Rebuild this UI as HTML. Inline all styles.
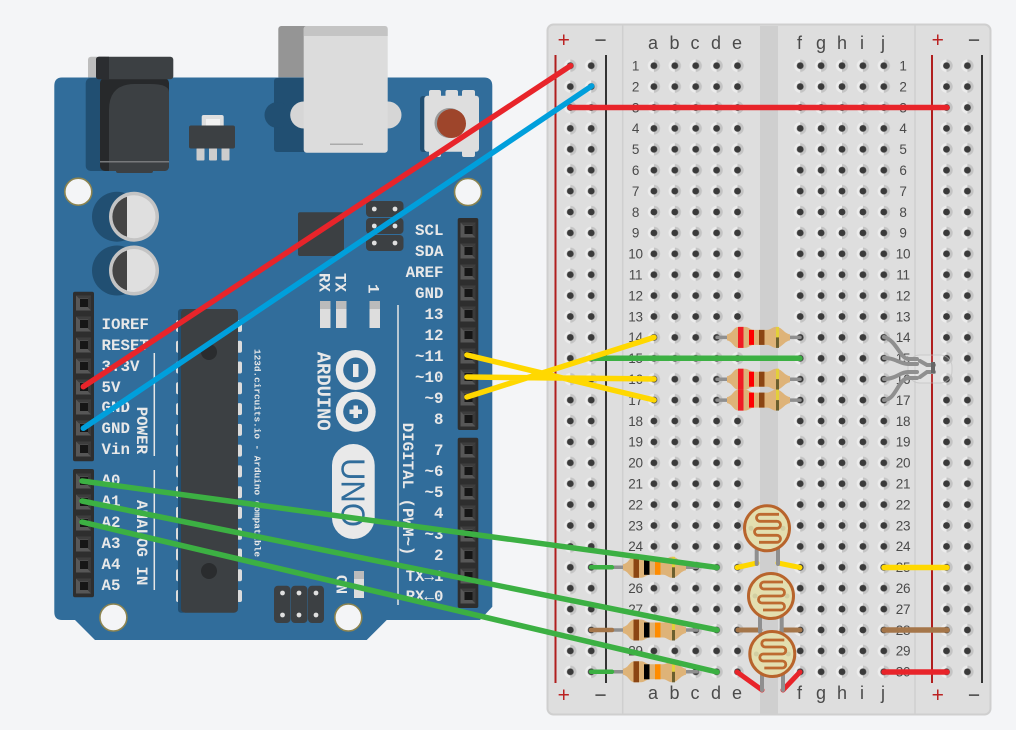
<!DOCTYPE html>
<html><head><meta charset="utf-8"><style>
html,body{margin:0;padding:0;background:#f4f5f7}
svg{display:block}
.m{font-family:"Liberation Mono",monospace;font-size:15.8px;font-weight:bold;fill:#e8e8e8}
.n{font-family:"Liberation Sans Narrow","Liberation Sans",sans-serif;fill:#4a4a4a}
.l{font-size:18px}
.r{font-size:13.5px;letter-spacing:-.3px}
</style></head><body>
<svg width="1016" height="730" viewBox="0 0 1016 730" xmlns="http://www.w3.org/2000/svg">
<defs>
<g id="p"><rect x="-7.5" y="-7.5" width="15" height="15" fill="#575757"/><path d="M-7.5-7.5h15l-3 3h-9z" fill="#3d3d3d"/><path d="M7.5-7.5v15l-3-3v-9z" fill="#3a3a3a"/><rect x="-3.5" y="-4" width="8" height="8" fill="#161616"/></g>
<pattern id="h" patternUnits="userSpaceOnUse" x="559.85" y="55.25" width="20.9" height="20.9">
<path d="M10.45 4.25a6.200 6.200 0 0 0 0 12.400z" fill="#ececec"/><path d="M10.45 4.25a6.200 6.200 0 0 1 0 12.400z" fill="#c4c4c4"/><circle cx="10.45" cy="10.45" r="3.4" fill="#3a3a3a"/>
</pattern>
<g id="res"><path d="M0-3C6-4 6-10.500 12-10.500L18-10.500C22-10.500 23-7.500 27-7.500L40-7.500C44-7.500 45-10.500 49-10.500C55-10.500 57-4 63-3V3C57 4 55 10.500 49 10.500C45 10.500 44 7.500 40 7.500L27 7.500C23 7.500 22 10.500 18 10.500L12 10.500C6 10.500 6 4 0 3Z" fill="#deb378"/></g>
<g id="gold"><rect x="49" y="-10.500" width="3" height="10.500" fill="#e3cf3a"/><rect x="49" y="0" width="3" height="10.500" fill="#6b5f2e"/></g>
<g id="rt"><use href="#res"/><rect x="11" y="-10.500" width="5.500" height="21" fill="#ee1c25"/><rect x="22" y="-7.500" width="5" height="15" fill="#f00"/><rect x="32" y="-7.500" width="5.500" height="15" fill="#8b4513"/><use href="#gold"/></g>
<g id="rb"><use href="#res"/><rect x="10.500" y="-10.500" width="5.500" height="21" fill="#8b4513"/><rect x="21" y="-7.500" width="5.500" height="15" fill="#000"/><rect x="32" y="-7.500" width="5.500" height="15" fill="#ff8c00"/><use href="#gold"/></g>
<g id="ldr"><circle r="22.500" fill="#e3dfb0" stroke="#b8642c" stroke-width="3"/><circle cx="-16" r="2.500" fill="#d2cea2"/><circle cx="16" r="2.500" fill="#d2cea2"/><path d="M12-14H-7A3.500 3.500 0 0 0-7-7H10A3.500 3.500 0 0 1 10 0H-9A3.500 3.500 0 0 0-9 7H10A3.500 3.500 0 0 1 10 14H-8" fill="none" stroke="#bd6a30" stroke-width="2.800"/></g>
</defs>

<!-- breadboard -->
<rect x="547.5" y="24.5" width="443" height="690" rx="6" fill="#dedede" stroke="#cfcfcf" stroke-width="2"/>
<rect x="760" y="26" width="18" height="688" fill="#cfcfcf"/>
<path d="M622.7 25V714M915 25V714" stroke="#cfcfcf" stroke-width="1.5"/>
<path d="M555.5 55V683M932 55V683" stroke="#b01e1e" stroke-width="2"/>
<path d="M606 55V683M982 55V683" stroke="#333" stroke-width="2"/>
<rect x="559.85" y="55.25" width="41.8" height="627" fill="url(#h)"/>
<rect x="643.45" y="55.25" width="104.5" height="627" fill="url(#h)"/>
<rect x="789.85" y="55.25" width="104.5" height="627" fill="url(#h)"/>
<rect x="936.25" y="55.25" width="41.8" height="627" fill="url(#h)"/>
<g font-family="Liberation Sans,sans-serif" font-size="21" text-anchor="middle">
<text x="563.7" y="47" fill="#b22">+</text><text x="600.5" y="47" fill="#444">−</text><text x="937.7" y="47" fill="#b22">+</text><text x="974" y="47" fill="#444">−</text>
<text x="563.7" y="702" fill="#b22">+</text><text x="600.5" y="702" fill="#444">−</text><text x="937.7" y="702" fill="#b22">+</text><text x="974" y="702" fill="#444">−</text>
</g>
<g class="n l" text-anchor="middle">
<text x="653" y="49">a</text><text x="674.5" y="49">b</text><text x="695" y="49">c</text><text x="716" y="49">d</text><text x="737" y="49">e</text>
<text x="799.5" y="49">f</text><text x="821" y="49">g</text><text x="842" y="49">h</text><text x="862" y="49">i</text><text x="883" y="49">j</text>
<text x="653" y="699">a</text><text x="674.5" y="699">b</text><text x="695" y="699">c</text><text x="716" y="699">d</text><text x="737" y="699">e</text>
<text x="799.5" y="699">f</text><text x="821" y="699">g</text><text x="842" y="699">h</text><text x="862" y="699">i</text><text x="883" y="699">j</text>
</g>
<g class="n r" text-anchor="middle">
<text x="635.5" y="70.5">1</text><text x="635.5" y="91.4">2</text><text x="635.5" y="112.3">3</text><text x="635.5" y="133.2">4</text><text x="635.5" y="154.1">5</text><text x="635.5" y="175">6</text><text x="635.5" y="195.9">7</text><text x="635.5" y="216.8">8</text><text x="635.5" y="237.7">9</text><text x="635.5" y="258.6">10</text><text x="635.5" y="279.5">11</text><text x="635.5" y="300.4">12</text><text x="635.5" y="321.3">13</text><text x="635.5" y="342.2">14</text><text x="635.5" y="363.1">15</text><text x="635.5" y="384">16</text><text x="635.5" y="404.9">17</text><text x="635.5" y="425.8">18</text><text x="635.5" y="446.7">19</text><text x="635.5" y="467.6">20</text><text x="635.5" y="488.5">21</text><text x="635.5" y="509.4">22</text><text x="635.5" y="530.3">23</text><text x="635.5" y="551.2">24</text><text x="635.5" y="572.1">25</text><text x="635.5" y="593">26</text><text x="635.5" y="613.9">27</text><text x="635.5" y="634.8">28</text><text x="635.5" y="655.7">29</text><text x="635.5" y="676.6">30</text>
<text x="903" y="70.5">1</text><text x="903" y="91.4">2</text><text x="903" y="112.3">3</text><text x="903" y="133.2">4</text><text x="903" y="154.1">5</text><text x="903" y="175">6</text><text x="903" y="195.9">7</text><text x="903" y="216.8">8</text><text x="903" y="237.7">9</text><text x="903" y="258.6">10</text><text x="903" y="279.5">11</text><text x="903" y="300.4">12</text><text x="903" y="321.3">13</text><text x="903" y="342.2">14</text><text x="903" y="363.1">15</text><text x="903" y="384">16</text><text x="903" y="404.9">17</text><text x="903" y="425.8">18</text><text x="903" y="446.7">19</text><text x="903" y="467.6">20</text><text x="903" y="488.5">21</text><text x="903" y="509.4">22</text><text x="903" y="530.3">23</text><text x="903" y="551.2">24</text><text x="903" y="572.1">25</text><text x="903" y="593">26</text><text x="903" y="613.9">27</text><text x="903" y="634.8">28</text><text x="903" y="655.7">29</text><text x="903" y="676.6">30</text>
</g>

<!-- back parts above board -->
<rect x="88" y="56.7" width="20" height="24" rx="3" fill="#bdbdbd"/>
<rect x="278.3" y="26" width="30" height="54" rx="3" fill="#959595"/>
<!-- arduino board -->
<path d="M62 77.5H484Q492.3 77.5 492.3 86V606.7L480 620H386.7L366.7 640H95L75 620H62Q54.3 620 54.3 612V86Q54.3 77.5 62 77.5Z" fill="#316d9b"/>
<!-- jack -->
<rect x="85.7" y="78" width="40" height="93" rx="5" fill="#214f72"/>
<rect x="100" y="78" width="69" height="93" rx="5" fill="#27292b"/>
<path d="M109 171V110Q109 84 135 84H150Q169 84 169 92V166Q169 171 164 171Z" fill="#3c4043"/>
<rect x="116" y="168" width="37" height="5" rx="2" fill="#3c4043"/>
<rect x="100" y="161" width="69" height="1.5" fill="#77797b"/>
<rect x="96" y="56.7" width="77.3" height="22.6" rx="3" fill="#3c4043"/>
<path d="M99 56.7H109V79.3H99Q96 79.3 96 76.3V59.7Q96 56.7 99 56.7Z" fill="#2b2d30"/>
<!-- regulator -->
<rect x="201.7" y="115" width="22" height="14" rx="2" fill="#dfdfdf"/><rect x="206" y="119" width="14" height="8" fill="#f2f2f2"/>
<rect x="196.5" y="148" width="8" height="12.5" rx="1" fill="#cdcdcd"/><rect x="209" y="148" width="8" height="12.5" rx="1" fill="#cdcdcd"/><rect x="221.5" y="148" width="8" height="12.5" rx="1" fill="#cdcdcd"/>
<rect x="189" y="125.5" width="46" height="23" rx="2" fill="#3c4043"/>
<!-- caps -->
<circle cx="117" cy="216.7" r="25" fill="#214f72"/><circle cx="117" cy="270.5" r="25" fill="#214f72"/>
<circle cx="134" cy="216.7" r="25" fill="#c4c4c4"/><circle cx="134" cy="216.7" r="21.5" fill="#dfdfdf"/><path d="M127 196.7A21 21 0 0 0 127 236.7Z" fill="#444"/>
<circle cx="134" cy="270.5" r="25" fill="#c4c4c4"/><circle cx="134" cy="270.5" r="21.5" fill="#dfdfdf"/><path d="M127 250.5A21 21 0 0 0 127 290.5Z" fill="#444"/>
<!-- usb -->
<rect x="274" y="78" width="36" height="74" rx="3" fill="#214f72"/><circle cx="277.5" cy="115" r="13" fill="#214f72"/>
<circle cx="303.7" cy="115" r="13.5" fill="#d6d6d6"/><circle cx="388" cy="115" r="13.5" fill="#d6d6d6"/>
<rect x="303.7" y="26" width="84" height="126.7" rx="3" fill="#dcdcdc"/>
<path d="M306.7 26H384.7Q387.7 26 387.7 29V36H303.7V29Q303.7 26 306.7 26Z" fill="#c4c4c4"/>
<rect x="330" y="143.5" width="33" height="1.5" fill="#aaa"/>
<!-- reset -->
<rect x="420" y="96" width="20" height="56" rx="3" fill="#214f72"/>
<rect x="429" y="90" width="12" height="8" rx="2" fill="#dedede"/><rect x="445.5" y="90" width="12.5" height="8" rx="2" fill="#dedede"/><rect x="462" y="90" width="13" height="8" rx="2" fill="#dedede"/>
<rect x="429" y="150" width="12" height="7" rx="2" fill="#dedede"/><rect x="462" y="150" width="13" height="7" rx="2" fill="#dedede"/>
<rect x="424.3" y="95.7" width="54.7" height="56" rx="3" fill="#dedede"/>
<circle cx="449.5" cy="123" r="15" fill="#999"/><circle cx="451.5" cy="123.5" r="14.5" fill="#9e452b"/>
<!-- mount holes -->
<circle cx="78.3" cy="191.7" r="13.5" fill="#f4f5f7" stroke="#8c8450" stroke-width="1.6"/>
<circle cx="468" cy="192" r="13.5" fill="#f4f5f7" stroke="#8c8450" stroke-width="1.6"/>
<circle cx="113.4" cy="617.5" r="13.5" fill="#f4f5f7" stroke="#8c8450" stroke-width="1.6"/>
<circle cx="348.3" cy="617.5" r="13.5" fill="#f4f5f7" stroke="#8c8450" stroke-width="1.6"/>
<!-- small chip -->
<rect x="298" y="212.3" width="46" height="43.7" rx="2" fill="#3c4043"/>
<!-- icsp top -->
<rect x="366" y="201" width="37.5" height="16" rx="4" fill="#3c4043"/><rect x="366" y="218" width="37.5" height="16" rx="4" fill="#3c4043"/><rect x="366" y="235" width="37.5" height="16" rx="4" fill="#3c4043"/>
<g fill="#e0e0e0"><circle cx="374.3" cy="209" r="2.4"/><circle cx="395" cy="209" r="2.4"/><circle cx="374.3" cy="226" r="2.4"/><circle cx="395" cy="226" r="2.4"/><circle cx="374.3" cy="243" r="2.4"/><circle cx="395" cy="243" r="2.4"/></g>
<!-- icsp bottom -->
<rect x="274" y="585.7" width="16.5" height="37.3" rx="4" fill="#3c4043"/><rect x="291" y="585.7" width="16.5" height="37.3" rx="4" fill="#3c4043"/><rect x="308" y="585.7" width="16" height="37.3" rx="4" fill="#3c4043"/>
<g fill="#e0e0e0"><circle cx="282.5" cy="593" r="2.4"/><circle cx="299" cy="593" r="2.4"/><circle cx="316" cy="593" r="2.4"/><circle cx="282.5" cy="615" r="2.4"/><circle cx="299" cy="615" r="2.4"/><circle cx="316" cy="615" r="2.4"/></g>
<!-- main chip -->
<g fill="#dcdcdc"><rect x="176" y="320" width="5" height="12" rx="2"/><rect x="176" y="340.800" width="5" height="12" rx="2"/><rect x="176" y="361.500" width="5" height="12" rx="2"/><rect x="176" y="382.300" width="5" height="12" rx="2"/><rect x="176" y="403.100" width="5" height="12" rx="2"/><rect x="176" y="423.900" width="5" height="12" rx="2"/><rect x="176" y="444.600" width="5" height="12" rx="2"/><rect x="176" y="465.400" width="5" height="12" rx="2"/><rect x="176" y="486.200" width="5" height="12" rx="2"/><rect x="176" y="506.900" width="5" height="12" rx="2"/><rect x="176" y="527.700" width="5" height="12" rx="2"/><rect x="176" y="548.500" width="5" height="12" rx="2"/><rect x="176" y="569.200" width="5" height="12" rx="2"/><rect x="176" y="590" width="5" height="12" rx="2"/>
<rect x="237" y="320" width="5" height="12" rx="2"/><rect x="237" y="340.800" width="5" height="12" rx="2"/><rect x="237" y="361.500" width="5" height="12" rx="2"/><rect x="237" y="382.300" width="5" height="12" rx="2"/><rect x="237" y="403.100" width="5" height="12" rx="2"/><rect x="237" y="423.900" width="5" height="12" rx="2"/><rect x="237" y="444.600" width="5" height="12" rx="2"/><rect x="237" y="465.400" width="5" height="12" rx="2"/><rect x="237" y="486.200" width="5" height="12" rx="2"/><rect x="237" y="506.900" width="5" height="12" rx="2"/><rect x="237" y="527.700" width="5" height="12" rx="2"/><rect x="237" y="548.500" width="5" height="12" rx="2"/><rect x="237" y="569.200" width="5" height="12" rx="2"/><rect x="237" y="590" width="5" height="12" rx="2"/></g>
<rect x="178" y="309" width="8" height="303.7" rx="3" fill="#214f72"/>
<rect x="181" y="309" width="57" height="303.7" rx="4" fill="#3c4043"/>
<circle cx="209" cy="352" r="8" fill="#2a2c2e"/><circle cx="209" cy="571" r="8" fill="#2a2c2e"/>
<!-- leds -->
<rect x="320" y="301" width="10.5" height="27" fill="#ddd"/><rect x="320" y="301" width="10.5" height="8" fill="#bbb"/>
<rect x="336" y="301" width="10.5" height="27" fill="#ddd"/><rect x="336" y="301" width="10.5" height="8" fill="#bbb"/>
<rect x="369.5" y="301" width="10.5" height="27" fill="#ddd"/><rect x="369.5" y="301" width="10.5" height="8" fill="#bbb"/>
<rect x="354" y="571" width="10" height="27" fill="#ddd"/><rect x="354" y="571" width="10" height="8" fill="#bbb"/>
<!-- logo -->
<circle cx="355.7" cy="370" r="20" fill="#e9e9e9"/><circle cx="355.7" cy="411.7" r="20" fill="#e9e9e9"/>
<circle cx="355.7" cy="370" r="12.5" fill="#316d9b"/><circle cx="355.7" cy="411.7" r="12.5" fill="#316d9b"/>
<rect x="353" y="364" width="5.5" height="13" fill="#e9e9e9"/>
<path d="M353.5 405.5h4.5v4h4v4.5h-4v4h-4.500v-4h-4v-4.500h4z" fill="#e9e9e9"/>
<rect x="332" y="444" width="42.700" height="95" rx="21.300" fill="#e9e9e9"/>
<text transform="translate(341.500,458) rotate(90)" font-family="Liberation Sans,sans-serif" font-size="33" textLength="69" lengthAdjust="spacingAndGlyphs" fill="#316d9b">UNO</text>
<text transform="translate(317.700,351.700) rotate(90)" font-family="Liberation Mono,monospace" font-weight="bold" font-size="19" fill="#e8e8e8" textLength="79">ARDUINO</text>
<!-- separators -->
<path d="M398 305V605M154.300 353V456M154.300 470V590" stroke="#e6e6e6" stroke-width="1.500"/>
<!-- headers -->
<rect x="457.700" y="218" width="20.600" height="212" rx="2" fill="#2e2e2e"/>
<rect x="457.700" y="437.700" width="20.600" height="170.300" rx="2" fill="#2e2e2e"/>
<rect x="73" y="291.700" width="21" height="169.600" rx="2" fill="#2e2e2e"/>
<rect x="73" y="469" width="21" height="128.300" rx="2" fill="#2e2e2e"/>
<g>
<use href="#p" x="468" y="230"/><use href="#p" x="468" y="251"/><use href="#p" x="468" y="272"/><use href="#p" x="468" y="293"/><use href="#p" x="468" y="314"/><use href="#p" x="468" y="335"/><use href="#p" x="468" y="356"/><use href="#p" x="468" y="377"/><use href="#p" x="468" y="398"/><use href="#p" x="468" y="419"/>
<use href="#p" x="468" y="450"/><use href="#p" x="468" y="471"/><use href="#p" x="468" y="492"/><use href="#p" x="468" y="513"/><use href="#p" x="468" y="534"/><use href="#p" x="468" y="555"/><use href="#p" x="468" y="576"/><use href="#p" x="468" y="596"/>
<use href="#p" x="83.500" y="303"/><use href="#p" x="83.500" y="324"/><use href="#p" x="83.500" y="345"/><use href="#p" x="83.500" y="366"/><use href="#p" x="83.500" y="387"/><use href="#p" x="83.500" y="407"/><use href="#p" x="83.500" y="428"/><use href="#p" x="83.500" y="449"/>
<use href="#p" x="83.500" y="481"/><use href="#p" x="83.500" y="502"/><use href="#p" x="83.500" y="523"/><use href="#p" x="83.500" y="544"/><use href="#p" x="83.500" y="565"/><use href="#p" x="83.500" y="586"/>
</g>
<!-- pin labels -->
<g class="m" text-anchor="end">
<text x="443.500" y="235">SCL</text><text x="443.500" y="256">SDA</text><text x="443.500" y="277">AREF</text><text x="443.500" y="298">GND</text><text x="443.500" y="319">13</text><text x="443.500" y="340">12</text><text x="443.500" y="361">~11</text><text x="443.500" y="382">~10</text><text x="443.500" y="403">~9</text><text x="443.500" y="424">8</text>
<text x="443.500" y="455">7</text><text x="443.500" y="476">~6</text><text x="443.500" y="497">~5</text><text x="443.500" y="518">4</text><text x="443.500" y="539">~3</text><text x="443.500" y="560">2</text><text x="443.500" y="581">TX→1</text><text x="443.500" y="601">RX←0</text>
</g>
<g class="m">
<text x="101.500" y="329">IOREF</text><text x="101.500" y="350">RESET</text><text x="101.500" y="371">3.3V</text><text x="101.500" y="392">5V</text><text x="101.500" y="412">GND</text><text x="101.500" y="433">GND</text><text x="101.500" y="454">Vin</text>
<text x="101.500" y="485">A0</text><text x="101.500" y="506">A1</text><text x="101.500" y="527">A2</text><text x="101.500" y="548">A3</text><text x="101.500" y="569">A4</text><text x="101.500" y="590">A5</text>
<text transform="translate(137,406.700) rotate(90)">POWER</text>
<text transform="translate(137,500) rotate(90)">ANALOG IN</text>
<text transform="translate(403,422.700) rotate(90)">DIGITAL (PWM~)</text>
<text transform="translate(319.300,273) rotate(90)">RX</text>
<text transform="translate(335.700,273) rotate(90)">TX</text>
<text transform="translate(368.500,284) rotate(90)">1</text>
<text transform="translate(336.700,575) rotate(90)">ON</text>
</g>
<text transform="translate(254.500,349) rotate(90)" font-family="Liberation Mono,monospace" font-weight="bold" font-size="9.400" fill="#e8e8e8" textLength="208">123d.circuits.io - Arduino compatible</text>

<!-- components on breadboard -->
<g stroke="#8f8f8f" stroke-width="3.500" stroke-linecap="round" fill="none">
<path d="M717 337.400H800M717 379.200H800M717 400.100H800"/>
<path d="M612 567.300H697M612 630H697M612 671.800H697"/>
</g>
<g stroke-linecap="round" fill="none" stroke-width="4.500">
<path d="M591 567.300H612M591 671.800H612" stroke="#3cb043"/>
<path d="M591 630H612" stroke="#a5764a"/>
</g>
<use href="#rt" x="727" y="337.400"/><use href="#rt" x="727" y="379.200"/><use href="#rt" x="727" y="400.100"/>
<use href="#rb" x="623" y="567.300"/><use href="#rb" x="623" y="630"/><use href="#rb" x="623" y="671.800"/>

<!-- rgb led -->
<rect x="908" y="355" width="44" height="28" rx="12" fill="#fff" fill-opacity=".12" stroke="#bdbdbd" stroke-opacity=".6"/>
<g stroke="#8f8f8f" stroke-width="4" fill="none" stroke-linecap="round">
<path d="M884 337C896 340 900 358 908 359H917"/>
<path d="M884 358C896 358 900 364 908 364H917"/>
<path d="M884 379C896 379 900 372 908 372H917"/>
<path d="M884 400C896 400 898 379 908 378H917"/>
<path d="M920 361L927 365H934M920 377L927 372H934"/>
</g>
<path d="M931 362H935V373H931Z" fill="#666"/>

<!-- ldrs legs + wires -->
<g stroke-linecap="round" fill="none">
<path d="M737 567.500L757 563M778 563L800 567.500" stroke="#ffd800" stroke-width="5"/>
<path d="M738 630H760M782 630H800" stroke="#a5764a" stroke-width="5"/>
<path d="M737 672L762 690M783 690L800 672" stroke="#e8242a" stroke-width="5"/>
<path d="M756.700 546V564M778 546V564M760 612V632M781.700 612V632M762 672V690M783 672V690" stroke="#8f8f8f" stroke-width="4"/>
</g>
<use href="#ldr" x="767" y="528.300"/><use href="#ldr" x="771" y="596"/><use href="#ldr" x="772.300" y="654"/>

<!-- wires -->
<g stroke-linecap="round" fill="none" stroke-width="5.500">
<path d="M884 567.500H947" stroke="#ffd800"/>
<path d="M884 630H947" stroke="#a5764a"/>
<path d="M884 672H947" stroke="#e8242a"/>
<path d="M591 358.300H800" stroke="#3cb043"/>
<path d="M82 481L717 567.500M82 501L717 630M82 522L717 672" stroke="#3cb043"/>
<path d="M467 355L654 400M467 377L654 379M467 397L654 337.400" stroke="#ffd800"/>
<path d="M83.300 428.300L591.700 86" stroke="#009fdc"/>
<path d="M83.300 386.700L570.700 65.700" stroke="#e8242a"/>
<path d="M570 107.500H947" stroke="#e8242a"/>
</g>
</svg>
</body></html>
